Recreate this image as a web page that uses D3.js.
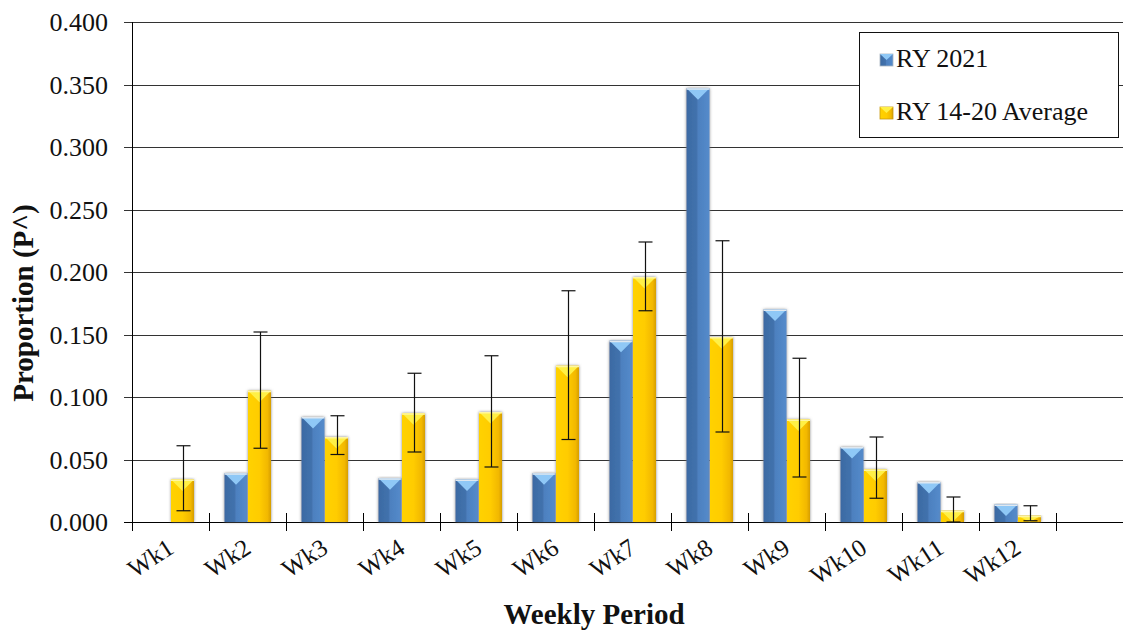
<!DOCTYPE html>
<html><head><meta charset="utf-8">
<script src="https://cdn.jsdelivr.net/npm/d3@7"></script>
<style>html,body{margin:0;padding:0;background:#fff;overflow:hidden}
svg text{font-family:"Liberation Serif","Times New Roman",Tinos,"DejaVu Serif",serif;}</style>
</head><body>
<svg id="c" width="1123" height="630"></svg>
<script>
const categories = ["Wk1","Wk2","Wk3","Wk4","Wk5","Wk6","Wk7","Wk8","Wk9","Wk10","Wk11","Wk12"];
const ry2021 = [0, 0.039, 0.084, 0.035, 0.034, 0.039, 0.145, 0.347, 0.170, 0.060, 0.032, 0.014];
const ryAvg = [0.034, 0.105, 0.068, 0.087, 0.088, 0.125, 0.196, 0.148, 0.082, 0.042, 0.009, 0.005];
const errHigh = [0.061, 0.152, 0.085, 0.119, 0.133, 0.185, 0.224, 0.225, 0.131, 0.068, 0.020, 0.013];
const errLow = [0.009, 0.059, 0.054, 0.056, 0.044, 0.066, 0.169, 0.072, 0.036, 0.019, 0.000, 0.001];
const yTicks = [0, 0.05, 0.1, 0.15, 0.2, 0.25, 0.3, 0.35, 0.4];
const seriesNames = ["RY 2021", "RY 14-20 Average"];

const svg = d3.select("#c");
const W = 1123, H = 630;
const L = 132, T = 22, B = 522;
const FONT = '"Liberation Serif","Times New Roman",Tinos,"DejaVu Serif",serif';
const slots = categories.concat([""]);
const x = d3.scaleBand().domain(slots).range([L, L + 77 * slots.length]).padding(0);
const y = d3.scaleLinear().domain([0, 0.4]).range([B, T]);
const bw = 23;

const defs = svg.append("defs");
function grad(id, stops) {
  const g = defs.append("linearGradient").attr("id", id).attr("x1", "0").attr("x2", "1").attr("y1", "0").attr("y2", "0");
  stops.forEach(s => g.append("stop").attr("offset", s[0]).attr("stop-color", s[1]));
}
grad("gBlue", [[0, "#3b6aa3"], [0.45, "#4272ad"], [0.5, "#4d80bf"], [1, "#548bcb"]]);
grad("gYel", [[0, "#ffd200"], [0.5, "#ffcc00"], [0.85, "#f2b800"], [1, "#d69e00"]]);
const f = defs.append("filter").attr("id", "sh").attr("x", "-30%").attr("y", "-5%").attr("width", "160%").attr("height", "110%");
f.append("feDropShadow").attr("dx", 0).attr("dy", 0).attr("stdDeviation", 1.8).attr("flood-color", "#7a7a7a").attr("flood-opacity", 0.9);

// gridlines + y ticks
const gGrid = svg.append("g");
yTicks.forEach(t => {
  const yy = Math.round(y(t)) + 0.5;
  gGrid.append("line").attr("x1", L - 8).attr("x2", W).attr("y1", yy).attr("y2", yy)
    .attr("stroke", t === 0 ? "#000" : "#333").attr("stroke-width", 1);
});
const yAxis = d3.axisLeft(y).tickValues(yTicks).tickFormat(d3.format(".3f")).tickSize(0).tickPadding(24);
const gy = svg.append("g").attr("transform", `translate(${L},0)`).call(yAxis);
gy.select(".domain").remove();
gy.attr("font-family", null);
gy.selectAll("text").style("font-family", FONT).attr("font-size", 26).attr("fill", "#111").attr("dy", "0.34em");

svg.append("line").attr("x1", L + 0.5).attr("x2", L + 0.5).attr("y1", T).attr("y2", B + 1).attr("stroke", "#000");

// x ticks
slots.forEach((s, i) => {
  const xx = Math.round(x(s)) + 0.5;
  svg.append("line").attr("x1", xx).attr("x2", xx).attr("y1", i === 0 ? B : B - 9).attr("y2", B + 9).attr("stroke", "#000");
});

// bars
function bar(g, x0, v, fillId, triColor, capColor) {
  if (!v) return;
  const y0 = y(v), h = B - y0;
  const gb = g.append("g");
  gb.append("rect").attr("x", x0).attr("y", y0).attr("width", bw).attr("height", h).attr("fill", `url(#${fillId})`).attr("filter", "url(#sh)");
  const d = Math.min(bw / 2, h);
  gb.append("path").attr("d", `M${x0},${y0}L${x0 + bw},${y0}L${x0 + bw / 2},${y0 + d}Z`).attr("fill", triColor);
  gb.append("rect").attr("x", x0).attr("y", y0).attr("width", bw).attr("height", 1.5).attr("fill", capColor);
}
const gBars = svg.append("g");
categories.forEach((c, i) => {
  const cx = x(c) + x.bandwidth() / 2;
  bar(gBars, cx - bw, ry2021[i], "gBlue", "#8fc8f6", "#dfe8f0");
  bar(gBars, cx + 0.5, ryAvg[i], "gYel", "#fff046", "#fff6a0");
});

// error bars
const gErr = svg.append("g").attr("stroke", "#111").attr("stroke-width", 1.2);
categories.forEach((c, i) => {
  const ex = Math.round(x(c) + x.bandwidth() / 2 + 0.5 + bw / 2) + 0.5;
  gErr.append("line").attr("x1", ex).attr("x2", ex).attr("y1", y(errHigh[i])).attr("y2", y(errLow[i]));
  [errHigh[i], errLow[i]].forEach(v => gErr.append("line").attr("x1", ex - 7).attr("x2", ex + 7).attr("y1", y(v)).attr("y2", y(v)));
});

// x labels
categories.forEach(c => {
  const cx = x(c) + x.bandwidth() / 2;
  svg.append("text").attr("transform", `translate(${cx + 5},${552}) rotate(-33)`)
    .attr("text-anchor", "end").style("font-family", FONT).attr("font-size", 25).attr("fill", "#111").text(c);
});

// axis titles
svg.append("text").attr("x", 594).attr("y", 624).attr("text-anchor", "middle")
  .style("font-family", FONT).attr("font-weight", "bold").attr("font-size", 29).attr("fill", "#111").text("Weekly Period");
svg.append("text").attr("transform", "translate(33,303) rotate(-90)").attr("text-anchor", "middle")
  .style("font-family", FONT).attr("font-weight", "bold").attr("font-size", 29).attr("fill", "#111").text("Proportion (P^)");

// legend
const lg = svg.append("g");
lg.append("rect").attr("x", 859.5).attr("y", 32.5).attr("width", 259).attr("height", 105).attr("fill", "#fff").attr("stroke", "#111").attr("stroke-width", 1);
const legFill = [["gBlue", "#8fc8f6"], ["gYel", "#fff046"]];
seriesNames.forEach((n, i) => {
  const by = 67 + i * 53;
  lg.append("rect").attr("x", 880).attr("y", by - 13).attr("width", 13).attr("height", 12).attr("fill", `url(#${legFill[i][0]})`).attr("stroke", i === 0 ? "#a8b4c0" : "#c89a10").attr("stroke-width", 0.8);
  lg.append("path").attr("d", `M880,${by - 13}L893,${by - 13}L886.5,${by - 7}Z`).attr("fill", legFill[i][1]);
  lg.append("text").attr("x", 896).attr("y", by).style("font-family", FONT).attr("font-size", 26).attr("fill", "#111").text(n);
});
</script>
</body></html>
